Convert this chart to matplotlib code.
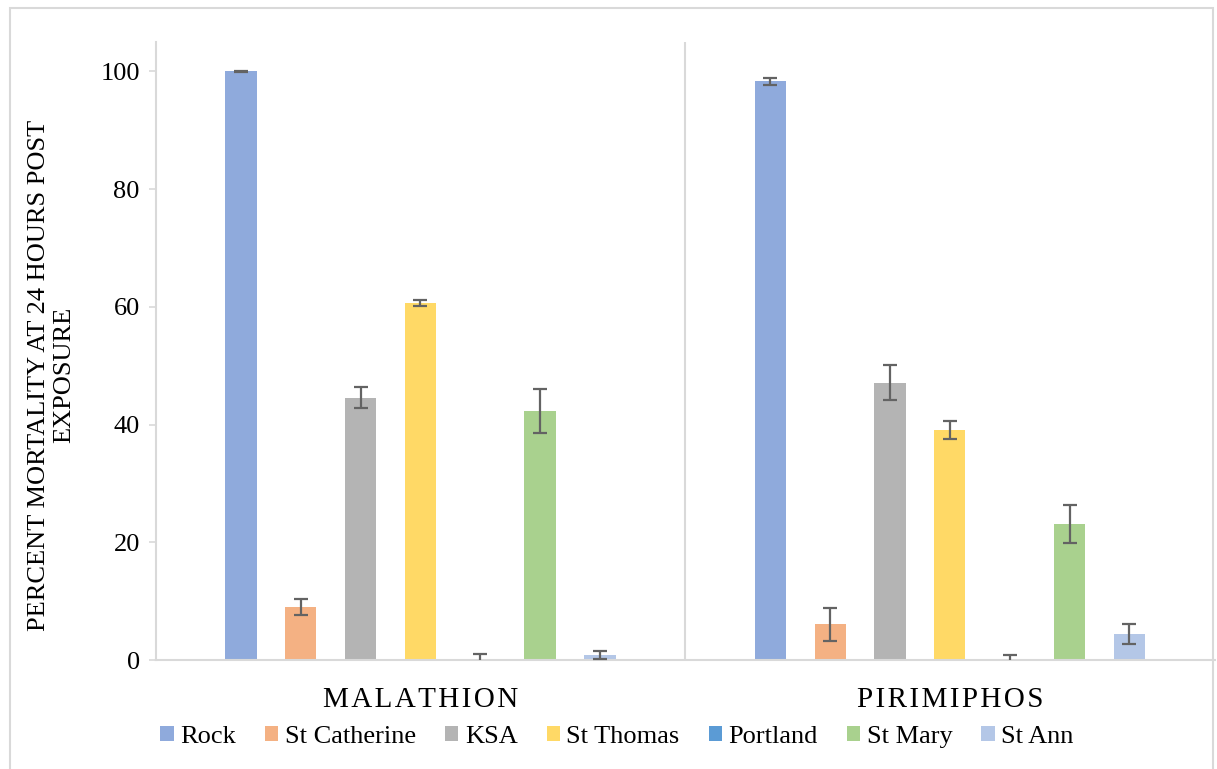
import matplotlib.pyplot as plt
import numpy as np
from matplotlib.patches import Patch, Rectangle

plt.rcParams['font.family'] = ['Liberation Serif', 'DejaVu Serif']

# insecticide groups and collection sites
groups = ['MALATHION', 'PIRIMIPHOS']
sites = ['Rock', 'St Catherine', 'KSA', 'St Thomas', 'Portland', 'St Mary', 'St Ann']
colors = ['#8FAADC', '#F4B183', '#B4B4B4', '#FFD966', '#5B9BD5', '#A9D18E', '#B4C7E7']

# percent mortality (24 h) per site, one value per group
rock = [100.0, 98.3]
st_catherine = [9.0, 6.1]
ksa = [44.6, 47.1]
st_thomas = [60.7, 39.1]
portland = [0.0, 0.0]
st_mary = [42.3, 23.1]
st_ann = [0.8, 4.4]

# error bar half-widths
rock_err = [0.1, 0.6]
st_catherine_err = [1.4, 2.8]
ksa_err = [1.8, 3.0]
st_thomas_err = [0.5, 1.5]
portland_err = [1.1, 0.9]
st_mary_err = [3.8, 3.2]
st_ann_err = [0.7, 1.7]

values = [rock, st_catherine, ksa, st_thomas, portland, st_mary, st_ann]
errors = [rock_err, st_catherine_err, ksa_err, st_thomas_err, portland_err, st_mary_err, st_ann_err]

fig = plt.figure(figsize=(12.17, 7.69), dpi=100)
ax = fig.add_axes([0.128, 0.1417, 0.870, 0.8037])

x = np.arange(len(groups))
step = 0.113
width = 0.059
for i, (site, vals, errs, c) in enumerate(zip(sites, values, errors, colors)):
    pos = x + (i - 3) * step
    ax.bar(pos, vals, width, color=c, label=site, zorder=2)
    ax.errorbar(pos, vals, yerr=errs, fmt='none', ecolor='#636363',
                elinewidth=1.6, capsize=5, capthick=1.6, zorder=3)

ax.set_xlim(-0.5, 1.5)
ax.set_ylim(0, 105)
ax.set_yticks([0, 20, 40, 60, 80, 100])
ax.tick_params(axis='y', labelsize=19, length=5, width=1.2, color='#d9d9d9', pad=6.5)
ax.set_xticks([])
for s in ['top', 'right']:
    ax.spines[s].set_visible(False)
for s in ['left', 'bottom']:
    ax.spines[s].set_color('#d9d9d9')
    ax.spines[s].set_linewidth(1.5)
ax.axvline(0.5, color='#d9d9d9', lw=1.5, zorder=1)

# spaced-out group names under the axis
for xi, g in zip(x, groups):
    ax.text(xi, -0.076, '\u200a'.join(g), transform=ax.get_xaxis_transform(),
            ha='center', va='baseline', fontsize=21)

fig.text(52 / 1217, 1 - 375 / 769, 'PERCENT MORTALITY AT 24 HOURS POST\nEXPOSURE',
         rotation=90, ha='center', va='center', multialignment='center', fontsize=19)

handles = [Patch(facecolor=c, label=s) for s, c in zip(sites, colors)]
fig.legend(handles=handles, loc='center', bbox_to_anchor=(0.507, 0.042), ncol=7,
           frameon=False, fontsize=19, handlelength=0.5, handleheight=0.5,
           handletextpad=0.25, columnspacing=1.1)

fig.add_artist(Rectangle((0.0082, -0.01), 0.9885, 0.9996, transform=fig.transFigure,
                         fill=False, edgecolor='#d9d9d9', lw=1.5))

fig.savefig('out.png', dpi=100)
